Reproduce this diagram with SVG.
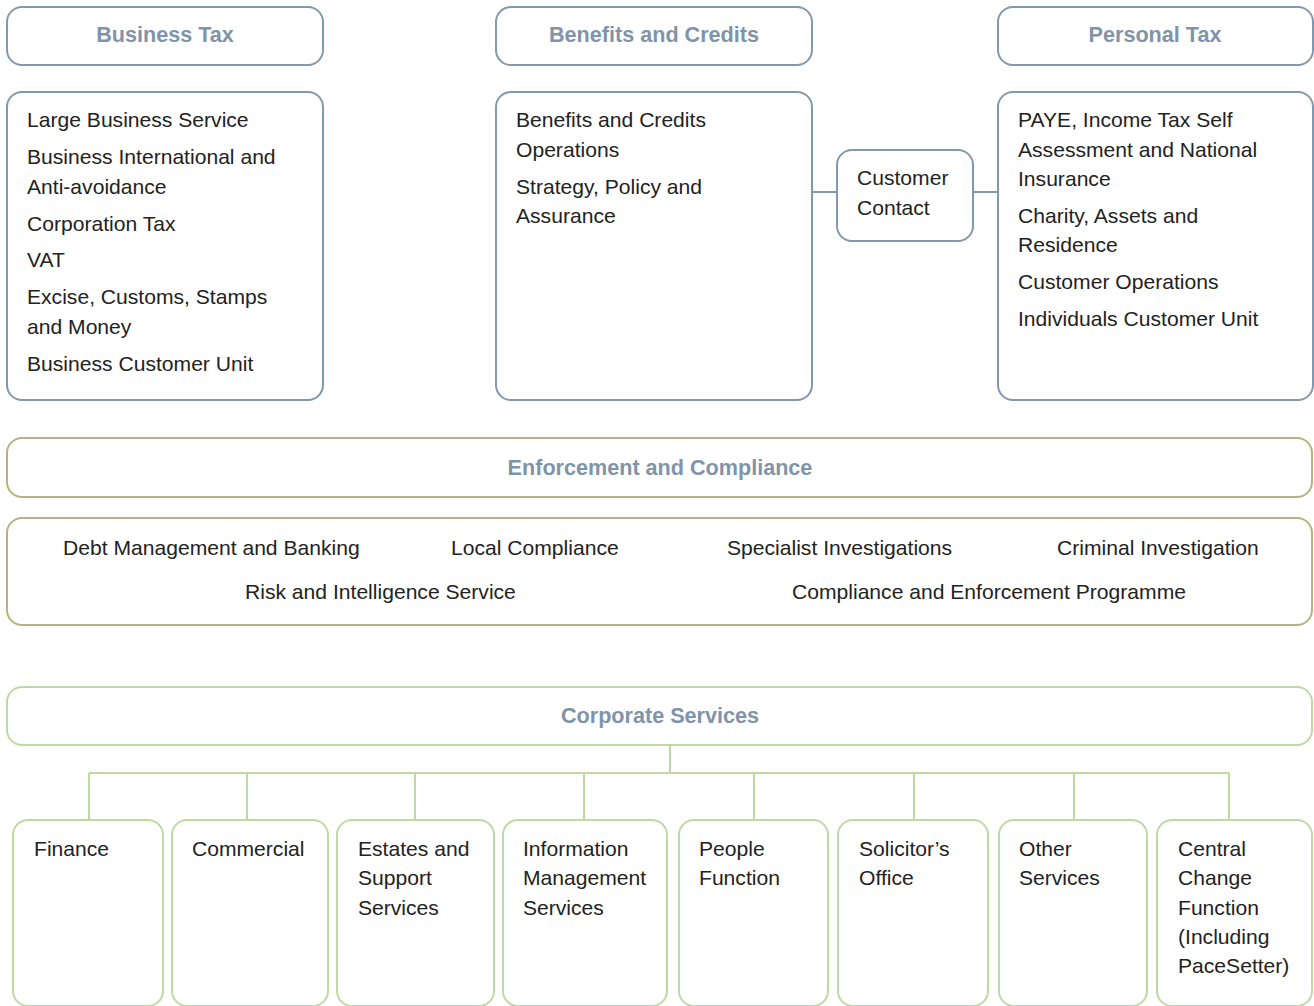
<svg xmlns="http://www.w3.org/2000/svg" width="1314" height="1006" viewBox="0 0 1314 1006">
<style>
rect{fill:#fff;stroke-width:2}
.b{stroke:#8298ad}
.o{stroke:#bab27e}
.g{stroke:#c0d9a3}
.h{font-family:"Liberation Sans",Arial,sans-serif;font-weight:bold;font-size:21.6px;fill:#7f94a9;text-anchor:middle}
.t{font-family:"Liberation Sans",Arial,sans-serif;font-size:21.1px;fill:#222}
.cb{stroke:#8298ad;stroke-width:2;fill:none}
.cg{stroke:#c0d9a3;stroke-width:2;fill:none}
</style>
<rect width="1314" height="1006" style="fill:#fff;stroke:none"/>
<g id="connectors">
<path class="cb" d="M812 192H837M973 192H998"/>
<path class="cg" d="M670 745V773M89 773H1229M89 773V820M247 773V820M415 773V820M584 773V820M754 773V820M914 773V820M1074 773V820M1229 773V820"/>
</g>
<g id="business-tax-header"><rect class="b" x="7" y="7" width="316" height="58" rx="15"/><text class="h" x="165" y="42">Business Tax</text></g>
<g id="business-tax-body"><rect class="b" x="7" y="92" width="316" height="308" rx="15"/>
<text class="t" x="27" y="127">Large Business Service</text>
<text class="t" x="27" y="164">Business International and</text>
<text class="t" x="27" y="194">Anti-avoidance</text>
<text class="t" x="27" y="231">Corporation Tax</text>
<text class="t" x="27" y="267">VAT</text>
<text class="t" x="27" y="304">Excise, Customs, Stamps</text>
<text class="t" x="27" y="334">and Money</text>
<text class="t" x="27" y="371">Business Customer Unit</text></g>
<g id="benefits-header"><rect class="b" x="496" y="7" width="316" height="58" rx="15"/><text class="h" x="654" y="42">Benefits and Credits</text></g>
<g id="benefits-body"><rect class="b" x="496" y="92" width="316" height="308" rx="15"/>
<text class="t" x="516" y="127">Benefits and Credits</text>
<text class="t" x="516" y="157">Operations</text>
<text class="t" x="516" y="194">Strategy, Policy and</text>
<text class="t" x="516" y="223">Assurance</text></g>
<g id="customer-contact"><rect class="b" x="837" y="150" width="136" height="91" rx="15"/>
<text class="t" x="857" y="185">Customer</text>
<text class="t" x="857" y="215">Contact</text></g>
<g id="personal-tax-header"><rect class="b" x="998" y="7" width="315" height="58" rx="15"/><text class="h" x="1155" y="42">Personal Tax</text></g>
<g id="personal-tax-body"><rect class="b" x="998" y="92" width="315" height="308" rx="15"/>
<text class="t" x="1018" y="127">PAYE, Income Tax Self</text>
<text class="t" x="1018" y="157">Assessment and National</text>
<text class="t" x="1018" y="186">Insurance</text>
<text class="t" x="1018" y="223">Charity, Assets and</text>
<text class="t" x="1018" y="252">Residence</text>
<text class="t" x="1018" y="289">Customer Operations</text>
<text class="t" x="1018" y="326">Individuals Customer Unit</text></g>
<g id="enforcement-header"><rect class="o" x="7" y="438" width="1305" height="59" rx="15"/><text class="h" x="660" y="475">Enforcement and Compliance</text></g>
<g id="enforcement-body"><rect class="o" x="7" y="518" width="1305" height="107" rx="15"/>
<text class="t" x="63" y="555">Debt Management and Banking</text>
<text class="t" x="451" y="555">Local Compliance</text>
<text class="t" x="727" y="555">Specialist Investigations</text>
<text class="t" x="1057" y="555">Criminal Investigation</text>
<text class="t" x="245" y="599">Risk and Intelligence Service</text>
<text class="t" x="792" y="599">Compliance and Enforcement Programme</text></g>
<g id="corporate-header"><rect class="g" x="7" y="687" width="1305" height="58" rx="15"/><text class="h" x="660" y="723">Corporate Services</text></g>
<g id="finance"><rect class="g" x="13" y="820" width="150" height="186" rx="15"/><text class="t" x="34" y="856">Finance</text></g>
<g id="commercial"><rect class="g" x="172" y="820" width="156" height="186" rx="15"/><text class="t" x="192" y="856">Commercial</text></g>
<g id="estates"><rect class="g" x="337" y="820" width="157" height="186" rx="15"/><text class="t" x="358" y="856">Estates and</text><text class="t" x="358" y="885">Support</text><text class="t" x="358" y="915">Services</text></g>
<g id="information"><rect class="g" x="503" y="820" width="164" height="186" rx="15"/><text class="t" x="523" y="856">Information</text><text class="t" x="523" y="885">Management</text><text class="t" x="523" y="915">Services</text></g>
<g id="people"><rect class="g" x="679" y="820" width="149" height="186" rx="15"/><text class="t" x="699" y="856">People</text><text class="t" x="699" y="885">Function</text></g>
<g id="solicitor"><rect class="g" x="838" y="820" width="150" height="186" rx="15"/><text class="t" x="859" y="856">Solicitor’s</text><text class="t" x="859" y="885">Office</text></g>
<g id="other"><rect class="g" x="999" y="820" width="148" height="186" rx="15"/><text class="t" x="1019" y="856">Other</text><text class="t" x="1019" y="885">Services</text></g>
<g id="central-change"><rect class="g" x="1157" y="820" width="155" height="186" rx="15"/><text class="t" x="1178" y="856">Central</text><text class="t" x="1178" y="885">Change</text><text class="t" x="1178" y="915">Function</text><text class="t" x="1178" y="944">(Including</text><text class="t" x="1178" y="973">PaceSetter)</text></g>
</svg>
